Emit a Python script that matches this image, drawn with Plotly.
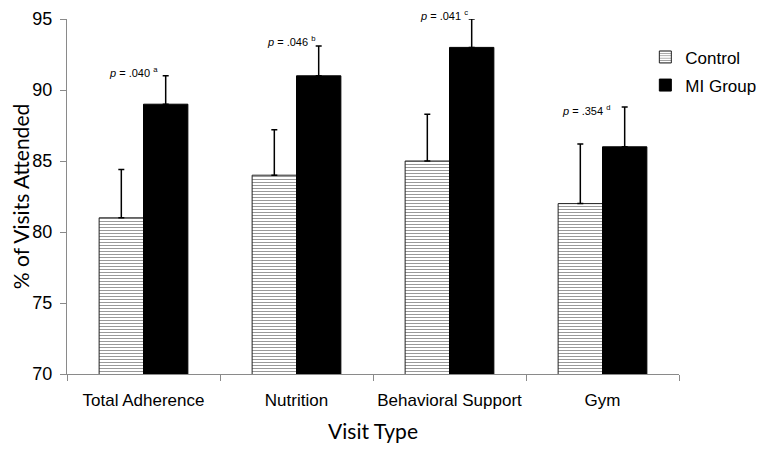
import plotly.graph_objects as go

categories = ["Total Adherence", "Nutrition", "Behavioral Support", "Gym"]
control_values = [81, 84, 85, 82]
control_err_top = [84.4, 87.2, 88.3, 86.2]
mi_values = [89, 91, 93, 86]
mi_err_top = [91.0, 93.1, 95.0, 88.8]
p_labels = ["<i>p</i> = .040 <sup>a</sup>", "<i>p</i> = .046 <sup>b</sup>",
            "<i>p</i> = .041 <sup>c</sup>", "<i>p</i> = .354 <sup>d</sup>"]
y_ticks = [70, 75, 80, 85, 90, 95]

# label pixel offsets (style, not data)
label_xshift = [-10, -6, -6, -17]
label_yshift = [4, 5, 4, -3]

ARIAL = "Liberation Sans, Arial, sans-serif"
TITLEF = "Lato, Carlito, Calibri, sans-serif"

fig = go.Figure()
fig.add_trace(go.Bar(
    name="Control", x=categories, y=control_values, legendgroup="c",
    marker=dict(color="white", line=dict(color="#222", width=1),
                pattern=dict(shape="-", size=3, solidity=0.35, fgcolor="#333", bgcolor="white")),
    error_y=dict(type="data", symmetric=False,
                 array=[t - v for t, v in zip(control_err_top, control_values)],
                 arrayminus=[0] * len(control_values),
                 color="black", thickness=1.5, width=3),
))
fig.add_trace(go.Bar(
    name="MI Group", x=categories, y=mi_values, legendgroup="m",
    marker=dict(color="black", line=dict(color="black", width=1)),
    error_y=dict(type="data", symmetric=False,
                 array=[t - v for t, v in zip(mi_err_top, mi_values)],
                 arrayminus=[0] * len(mi_values),
                 color="black", thickness=1.5, width=3),
))

for c, t, lab, xs, ys in zip(categories, mi_err_top, p_labels, label_xshift, label_yshift):
    fig.add_annotation(x=c, y=t, xref="x", yref="y", text=lab, showarrow=False,
                       xshift=xs, yshift=ys, yanchor="middle", xanchor="center",
                       font=dict(family=ARIAL, size=11, color="black"))

fig.update_layout(
    width=764, height=451,
    margin=dict(l=59, r=91, t=11, b=85),
    paper_bgcolor="white", plot_bgcolor="white",
    barmode="group", bargap=0.42, bargroupgap=0,
    showlegend=True,
    legend=dict(x=0.945, y=0.9425, xanchor="left", yanchor="top",
                font=dict(family=ARIAL, size=17, color="black"),
                bgcolor="rgba(0,0,0,0)", itemwidth=30, tracegroupgap=3),
    xaxis=dict(
        showline=True, linecolor="#8a8a8a", linewidth=1,
        ticks="outside", tickson="boundaries", ticklen=6, tickcolor="#8a8a8a",
        tickangle=0, automargin=False, ticklabelstandoff=11,
        tickfont=dict(family=ARIAL, size=17, color="black"),
        title=dict(text="Visit Type", font=dict(family=TITLEF, size=21, color="black"), standoff=14),
        showgrid=False,
    ),
    yaxis=dict(
        range=[70, 95], tickvals=y_ticks, automargin=False, ticklabelstandoff=4,
        showline=True, linecolor="#8a8a8a", linewidth=1,
        ticks="outside", ticklen=6, tickcolor="#8a8a8a",
        tickfont=dict(family=ARIAL, size=18, color="black"),
        title=dict(text="% of Visits Attended", font=dict(family=TITLEF, size=21, color="black"), standoff=3),
        showgrid=False, zeroline=False,
    ),
)

fig.write_html("out.html")
